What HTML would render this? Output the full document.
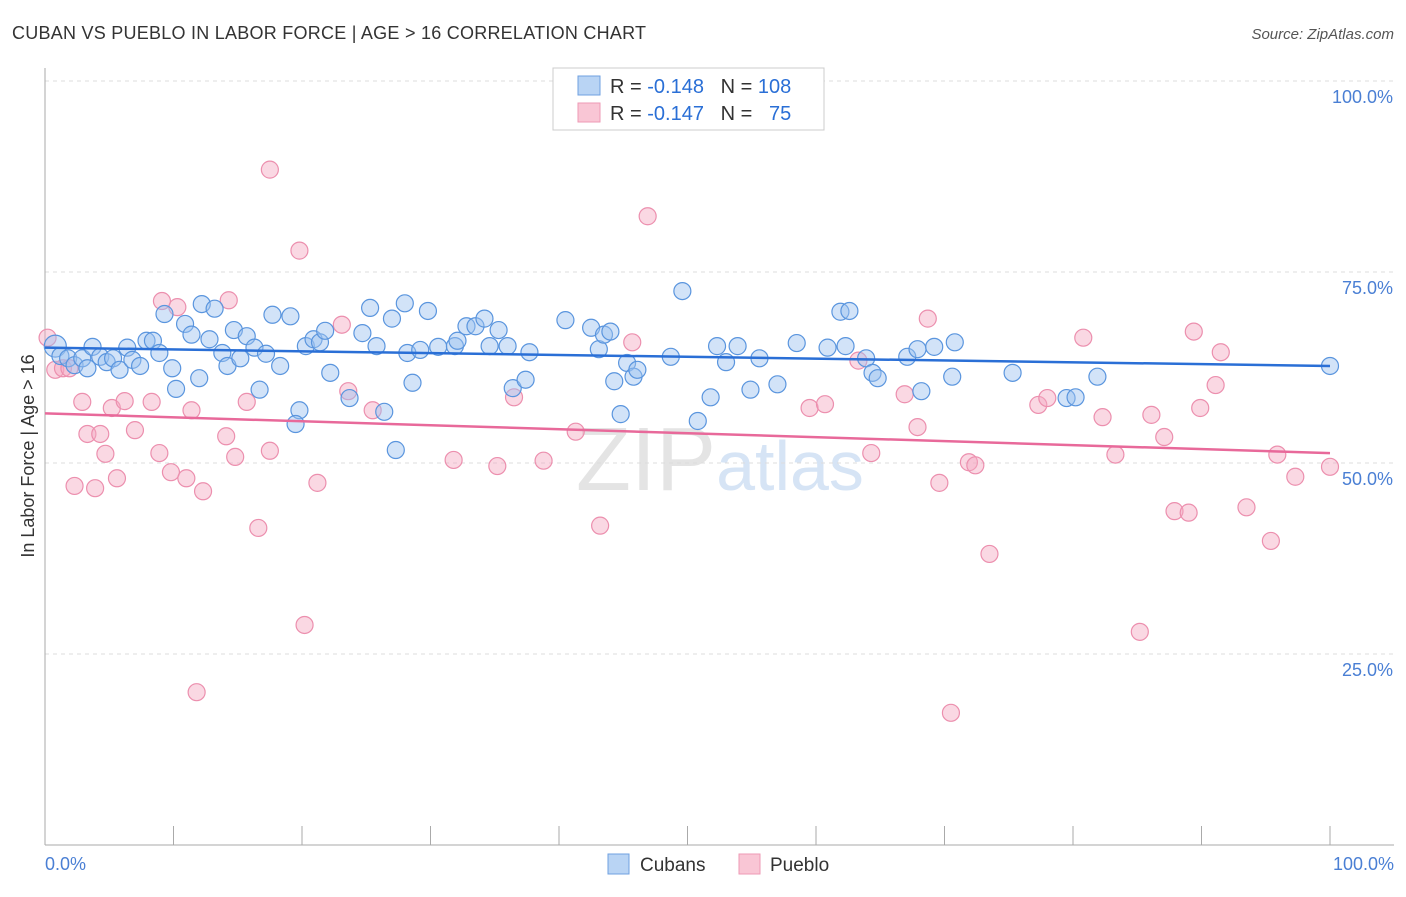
<!DOCTYPE html>
<html><head><meta charset="utf-8"><style>
body{margin:0;background:#fff;font-family:"Liberation Sans",sans-serif;}
svg text{font-family:"Liberation Sans",sans-serif;}
</style></head><body>
<svg id="chart" width="1406" height="892">
<text x="12" y="39" font-size="18" fill="#333" textLength="634" lengthAdjust="spacing">CUBAN VS PUEBLO IN LABOR FORCE | AGE &gt; 16 CORRELATION CHART</text>
<text x="1394" y="39" font-size="15" fill="#555" text-anchor="end" font-style="italic">Source: ZipAtlas.com</text>
<text x="720" y="490" font-size="90" fill="#e4e4e4" text-anchor="middle" font-family="Liberation Serif">ZIP<tspan fill="#d6e4f5" font-family="Liberation Sans" font-size="70">atlas</tspan></text>
<g id="grid"></g><g id="marks"></g>
<text transform="translate(34,456) rotate(-90)" font-size="18" fill="#333" text-anchor="middle">In Labor Force | Age &gt; 16</text>
<text x="45" y="870" font-size="18" fill="#4a7fd4">0.0%</text>
<text x="1394" y="870" font-size="18" fill="#4a7fd4" text-anchor="end">100.0%</text>
<g>
<rect x="553" y="68" width="271" height="62" fill="#fff" stroke="#ccc"/>
<rect x="578" y="76" width="22" height="19" fill="#b9d4f4" stroke="#6fa0e0"/>
<rect x="578" y="103" width="22" height="19" fill="#f9c6d5" stroke="#ee9ab5"/>
<text x="610" y="93" font-size="20" fill="#333">R = <tspan fill="#2a6fd6">-0.148</tspan>&#160;&#160;&#160;N = <tspan fill="#2a6fd6">108</tspan></text>
<text x="610" y="120" font-size="20" fill="#333">R = <tspan fill="#2a6fd6">-0.147</tspan>&#160;&#160;&#160;N = &#160;&#160;<tspan fill="#2a6fd6">75</tspan></text>
</g>
<g>
<rect x="608" y="854" width="21" height="20" fill="#b9d4f4" stroke="#6fa0e0"/>
<text x="640" y="871" font-size="19" fill="#333">Cubans</text>
<rect x="739" y="854" width="21" height="20" fill="#f9c6d5" stroke="#ee9ab5"/>
<text x="770" y="871" font-size="19" fill="#333">Pueblo</text>
</g>
</svg>
<script>
const yTicks=[25,50,75,100];
const yTickLabels=["25.0%","50.0%","75.0%","100.0%"];
const cubanX=[0.8,1.2,1.8,2.3,2.9,3.3,3.7,4.3,4.8,5.3,5.8,6.4,6.8,7.4,7.9,8.4,8.9,9.3,9.9,10.2,10.9,11.4,12.0,12.2,12.8,13.2,13.8,14.2,14.7,15.2,15.7,16.3,16.7,17.2,17.7,18.3,19.1,19.8,19.5,20.3,20.9,21.4,21.8,22.2,23.7,24.7,25.3,25.8,26.4,27.0,27.3,28.0,28.2,28.6,29.2,29.8,30.6,31.9,32.1,32.8,33.5,34.2,34.6,35.3,36.0,36.4,37.4,37.7,40.5,42.5,43.1,43.5,44.0,44.3,44.8,45.3,45.8,46.1,48.7,49.6,50.8,51.8,52.3,53.0,53.9,54.9,55.6,57.0,58.5,60.9,61.9,62.6,62.3,63.9,64.4,64.8,67.1,67.9,68.2,69.2,70.6,70.8,75.3,79.5,80.2,81.9,100];
const cubanY=[65.3,64.0,63.7,62.8,63.7,62.4,65.2,63.9,63.2,63.7,62.2,65.1,63.5,62.7,66.0,66.0,64.4,69.5,62.4,59.7,68.2,66.8,61.1,70.8,66.2,70.2,64.4,62.7,67.4,63.7,66.6,65.1,59.6,64.3,69.4,62.7,69.2,56.9,55.1,65.3,66.2,65.8,67.3,61.8,58.5,67.0,70.3,65.3,56.7,68.9,51.7,70.9,64.4,60.5,64.8,69.9,65.2,65.3,66.0,67.9,67.9,68.9,65.3,67.4,65.3,59.8,60.9,64.5,68.7,67.7,64.9,66.8,67.2,60.7,56.4,63.1,61.3,62.2,63.9,72.5,55.5,58.6,65.3,63.2,65.3,59.6,63.7,60.3,65.7,65.1,69.8,69.9,65.3,63.7,61.8,61.1,63.9,64.9,59.4,65.2,61.3,65.8,61.8,58.5,58.6,61.3,62.7];
const puebloX=[0.2,0.8,1.4,1.9,2.9,2.3,3.3,3.9,4.3,4.7,5.2,5.6,6.2,7.0,8.3,8.9,9.1,9.8,10.3,11.0,11.4,12.3,14.1,14.3,14.8,15.7,16.6,17.5,17.5,19.8,20.2,21.2,23.1,23.6,25.5,31.8,35.2,36.5,38.8,41.3,43.2,45.7,46.9,59.5,60.7,64.3,63.3,66.9,67.9,68.7,69.6,70.5,71.9,72.4,73.5,77.3,78.0,80.8,82.3,83.3,85.2,86.1,87.1,87.9,89.0,89.4,89.9,91.1,91.5,93.5,95.4,95.9,97.3,100,11.8];
const puebloY=[66.4,62.2,62.4,62.4,58.0,47.0,53.8,46.7,53.8,51.2,57.2,48.0,58.1,54.3,58.0,51.3,71.2,48.8,70.4,48.0,56.9,46.3,53.5,71.3,50.8,58.0,41.5,51.6,88.4,77.8,28.8,47.4,68.1,59.4,56.9,50.4,49.6,58.6,50.3,54.1,41.8,65.8,82.3,57.2,57.7,51.3,63.4,59.0,54.7,68.9,47.4,17.3,50.1,49.7,38.1,57.6,58.5,66.4,56.0,51.1,27.9,56.3,53.4,43.7,43.5,67.2,57.2,60.2,64.5,44.2,39.8,51.1,48.2,49.5,20.0];
const cubanTrend=[65.1,62.7];
const puebloTrend=[56.5,51.3];
const X=v=>45+v*12.85, Y=v=>845-v*7.64;
const NS='http://www.w3.org/2000/svg';
const grid=document.getElementById('grid'), marks=document.getElementById('marks');
function mk(tag,attrs,parent){const e=document.createElementNS(NS,tag);for(const k in attrs)e.setAttribute(k,attrs[k]);parent.appendChild(e);return e;}
yTicks.forEach((t,i)=>{
 const l=mk('line',{x1:45,x2:1394,y1:Y(t),y2:Y(t),stroke:'#ddd','stroke-dasharray':'4,4'},grid);
 
 
 const tx=mk('text',{x:1393,y:Y(t)+22,'font-size':18,fill:'#4a7fd4','text-anchor':'end'},grid);
 tx.textContent=yTickLabels[i];
 
 
});
const ax=mk('line',{x1:45,x2:45,y1:68,y2:845,stroke:'#aaa'},grid);


const bx=mk('line',{x1:45,x2:1394,y1:845,y2:845,stroke:'#aaa'},grid);


for(let i=0;i<=10;i++){const t=mk('line',{x1:X(i*10),x2:X(i*10),y1:845,y2:826,stroke:'#aaa'},grid);
 
 }
function dots(xs,ys,fill,stroke,name){xs.forEach((x,i)=>{const c=mk('circle',{cx:X(x),cy:Y(ys[i]),r:(name==='cuban-point'&&i===0)?11:8.5,fill:fill,'fill-opacity':0.45,stroke:stroke,'stroke-width':1.2},marks);
 
 });}
dots(puebloX,puebloY,'#f5a9c0','#ec8fae','pueblo-point');
dots(cubanX,cubanY,'#9cc2ef','#5a95de','cuban-point');
const t1=mk('line',{x1:X(0),x2:X(100),y1:Y(cubanTrend[0]),y2:Y(cubanTrend[1]),stroke:'#2a6fd6','stroke-width':2.5},marks);


const t2=mk('line',{x1:X(0),x2:X(100),y1:Y(puebloTrend[0]),y2:Y(puebloTrend[1]),stroke:'#e8699a','stroke-width':2.5},marks);


</script>
</body></html>
